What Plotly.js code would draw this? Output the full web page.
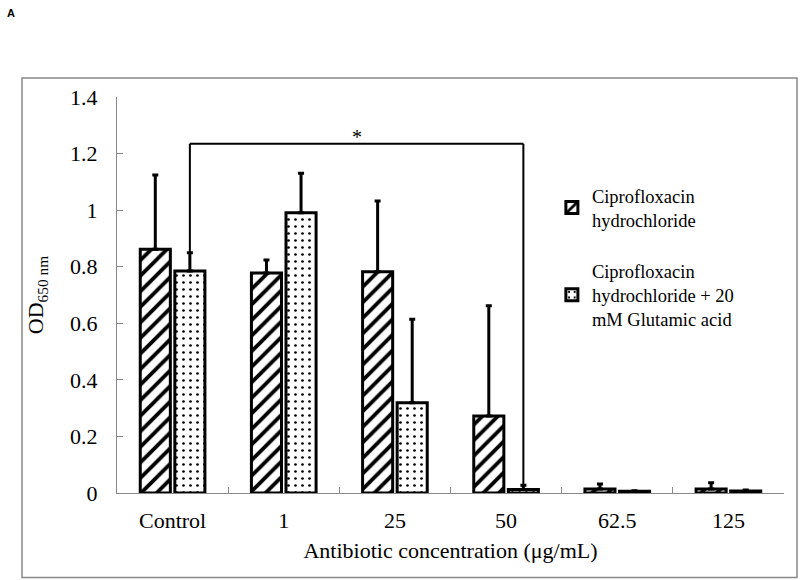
<!DOCTYPE html>
<html>
<head>
<meta charset="utf-8">
<script src="https://cdn.plot.ly/plotly-3.0.1.min.js"></script>
<style>html,body{margin:0;padding:0;background:#fff}#chart{width:800px;height:580px}</style>
</head>
<body>
<div id="chart"></div>
<script>
// ---- data ----
const categories = ["Control", "1", "25", "50", "62.5", "125"];
const seriesNames = ["Ciprofloxacin<br>hydrochloride", "Ciprofloxacin<br>hydrochloride + 20<br>mM Glutamic acid"];
const cipro = [0.862, 0.778, 0.782, 0.272, 0.014, 0.014];
const ciproErr = [0.262, 0.046, 0.250, 0.390, 0.018, 0.022];
const ciproGlu = [0.785, 0.991, 0.319, 0.012, 0.006, 0.007];
const ciproGluErr = [0.064, 0.139, 0.295, 0.015, 0.002, 0.004];
const yTicks = [0, 0.2, 0.4, 0.6, 0.8, 1, 1.2, 1.4];
const sigFrom = 0, sigTo = 3, sigLevel = 1.235, sigLabel = "*";

const serif = "Liberation Serif, serif";
const bargap = 0.378;
const off = (1 - bargap) / 4;

const errBase = {type: "data", symmetric: false, thickness: 3, width: 3, color: "#000"};

const t1 = {
  type: "bar", x: categories, y: cipro, name: seriesNames[0], legendgroup: "a",
  marker: {color: "#fff", line: {color: "#000", width: 3},
    pattern: {shape: "/", fgcolor: "#000", bgcolor: "#fff", size: 11, solidity: 0.35}},
  error_y: Object.assign({}, errBase, {array: ciproErr, arrayminus: cipro.map(() => 0)})
};
const t2 = {
  type: "bar", x: categories, y: ciproGlu, name: seriesNames[1], legendgroup: "b",
  marker: {color: "#fff", line: {color: "#000", width: 3},
    pattern: {shape: ".", fgcolor: "#000", bgcolor: "#fff", size: 7, solidity: 0.12}},
  error_y: Object.assign({}, errBase, {array: ciproGluErr, arrayminus: ciproGlu.map(() => 0)})
};

const leftX = sigFrom + off, rightX = sigTo + off;
const leftTop = ciproGlu[sigFrom] + ciproGluErr[sigFrom];
const rightTop = ciproGlu[sigTo] + ciproGluErr[sigTo];
const lineStyle = {color: "#000", width: 2};

const layout = {
  width: 800, height: 580,
  margin: {l: 117, r: 16, t: 97, b: 87},
  paper_bgcolor: "#fff", plot_bgcolor: "#fff",
  barmode: "group", bargap: bargap, bargroupgap: 0.13,
  showlegend: true,
  legend: {x: 0.652, y: 0.798, xanchor: "left", yanchor: "top",
    font: {family: serif, size: 18.5, color: "#000"}, tracegroupgap: 24,
    bgcolor: "rgba(0,0,0,0)"},
  font: {family: serif, color: "#000"},
  xaxis: {
    type: "category", showline: true, linecolor: "#888", linewidth: 1,
    ticks: "inside", tickson: "boundaries", ticklen: 6, tickcolor: "#888",
    tickfont: {family: serif, size: 22, color: "#000"}, ticklabelstandoff: 8,
    title: {text: "Antibiotic concentration (μg/mL)", font: {family: serif, size: 22, color: "#000"}, standoff: 10},
    showgrid: false, zeroline: false, fixedrange: true
  },
  yaxis: {
    range: [0, 1.4], tickvals: yTicks, ticktext: yTicks.map(String),
    showline: true, linecolor: "#888", linewidth: 1,
    ticks: "inside", ticklen: 6, tickcolor: "#888",
    tickfont: {family: serif, size: 22, color: "#000"}, ticklabelstandoff: 14,
    title: {text: "OD<sub>650 nm</sub>", font: {family: serif, size: 22, color: "#000"}, standoff: 20},
    showgrid: false, zeroline: false, fixedrange: true
  },
  shapes: [
    {type: "line", xref: "x", yref: "y", x0: leftX, x1: leftX, y0: leftTop, y1: sigLevel, line: lineStyle},
    {type: "line", xref: "x", yref: "y", x0: leftX, x1: rightX, y0: sigLevel, y1: sigLevel, line: lineStyle},
    {type: "line", xref: "x", yref: "y", x0: rightX, x1: rightX, y0: rightTop, y1: sigLevel, line: lineStyle},
    {type: "rect", xref: "paper", yref: "paper", x0: -0.1424, x1: 1.0195, y0: -0.2134, y1: 1.048,
      line: {color: "#888", width: 1.5}, layer: "below"}
  ],
  annotations: [
    {x: (leftX + rightX) / 2, y: sigLevel, xref: "x", yref: "y", text: sigLabel, showarrow: false,
      yanchor: "bottom", font: {family: serif, size: 20, color: "#000"}, yshift: -6},
    {x: -0.168, y: 1.232, xref: "paper", yref: "paper", text: "<b>A</b>", showarrow: false,
      xanchor: "left", yanchor: "top", font: {family: "Liberation Sans", size: 11, color: "#000"}}
  ]
};

Plotly.newPlot("chart", [t1, t2], layout, {displayModeBar: false, staticPlot: true});
</script>
</body>
</html>
